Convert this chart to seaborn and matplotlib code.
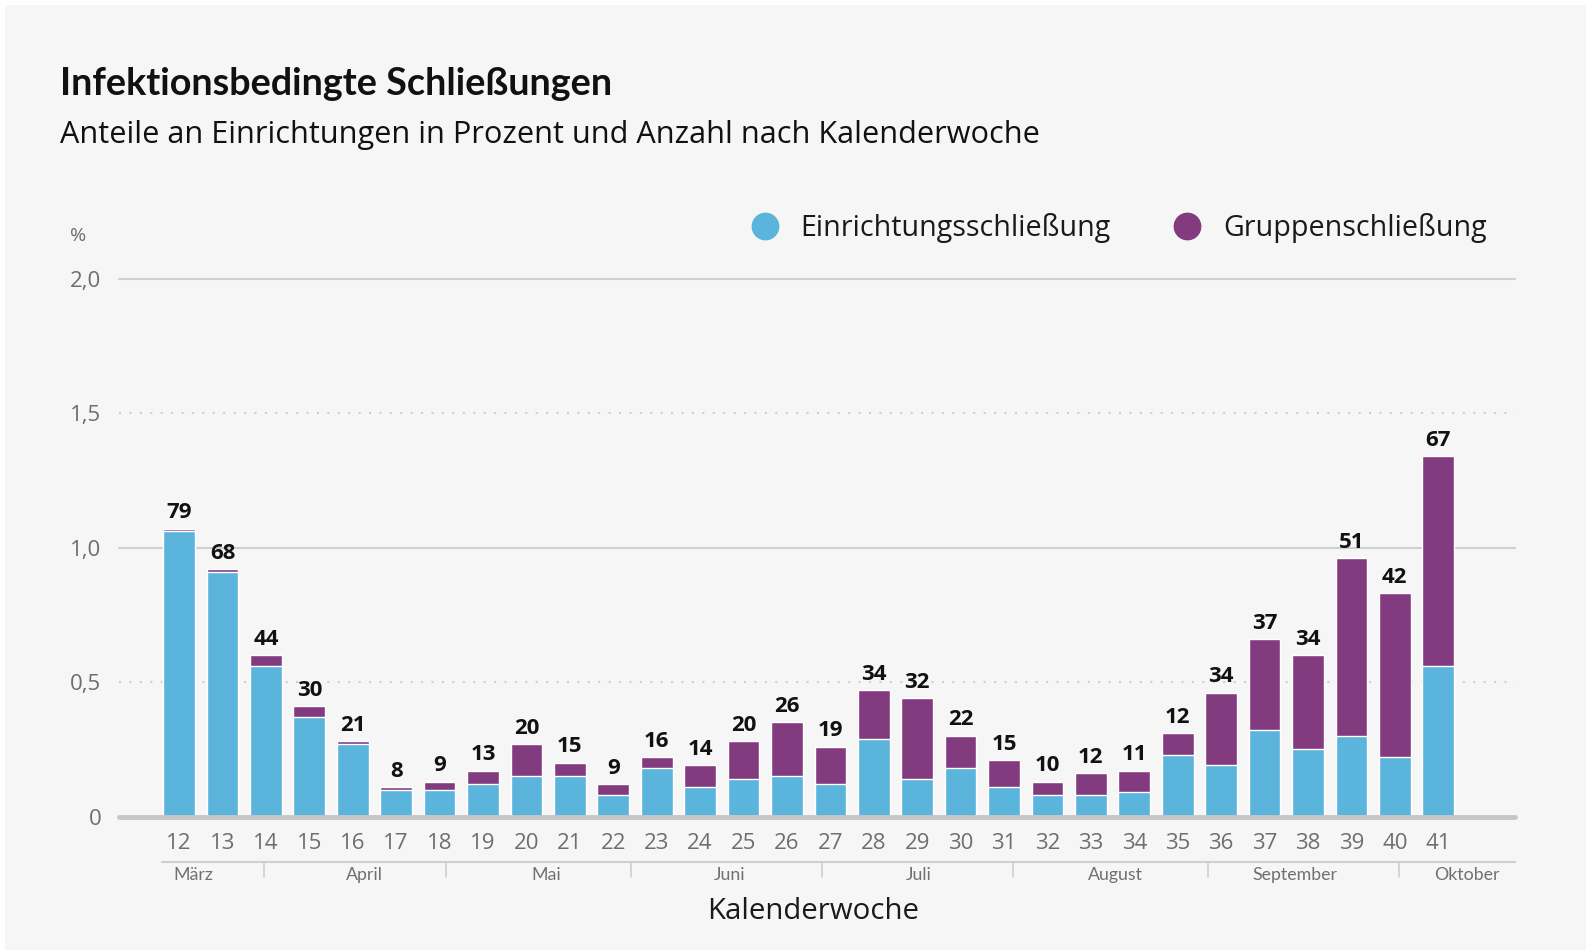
import matplotlib
matplotlib.use("Agg")
import matplotlib.pyplot as plt
import matplotlib.transforms as mtransforms
from matplotlib.lines import Line2D
from matplotlib.patches import Rectangle
import seaborn as sns
import pandas as pd

# ---------------- data ----------------
weeks = [str(w) for w in range(12, 42)]
einrichtung = [1.06, 0.91, 0.56, 0.37, 0.27, 0.10, 0.10, 0.12, 0.15, 0.15,
               0.08, 0.18, 0.11, 0.14, 0.15, 0.12, 0.29, 0.14, 0.18, 0.11,
               0.08, 0.08, 0.09, 0.23, 0.19, 0.32, 0.25, 0.30, 0.22, 0.56]
gruppe = [0.01, 0.01, 0.04, 0.04, 0.01, 0.01, 0.03, 0.05, 0.12, 0.05,
          0.04, 0.04, 0.08, 0.14, 0.20, 0.14, 0.18, 0.30, 0.12, 0.10,
          0.05, 0.08, 0.08, 0.08, 0.27, 0.34, 0.35, 0.66, 0.61, 0.78]
anzahl = [79, 68, 44, 30, 21, 8, 9, 13, 20, 15, 9, 16, 14, 20, 26, 19, 34, 32,
          22, 15, 10, 12, 11, 12, 34, 37, 34, 51, 42, 67]
months = ["März", "April", "Mai", "Juni", "Juli", "August", "September", "Oktober"]
y_ticks = [0, 0.5, 1.0, 1.5, 2.0]
y_ticklabels = ["0", "0,5", "1,0", "1,5", "2,0"]

# layout constants (positions of month labels / separators on the week axis)
month_label_pos = [0.32, 4.26, 8.45, 12.69, 17.03, 21.57, 25.7, 29.66]
month_sep_pos = [1.96, 6.15, 10.41, 14.8, 19.2, 23.7, 28.1]

df = pd.DataFrame({"KW": weeks, "Einrichtung": einrichtung, "Gruppe": gruppe})
df["Gesamt"] = df["Einrichtung"] + df["Gruppe"]

BLUE = "#5bb4dc"
PURPLE = "#833b7f"
BG = "#f6f6f6"
GRID = "#cfcfcf"
TICKC = "#6e6e6e"
OS = ["Open Sans", "DejaVu Sans"]

sns.set_theme(style="white")
plt.rcParams["font.family"] = ["Lato", "DejaVu Sans"]

fig = plt.figure(figsize=(15.86, 9.5), dpi=100, facecolor="white")
fig.patches.append(Rectangle((5 / 1586, 0), 1, 1 - 5 / 950, transform=fig.transFigure,
                             facecolor=BG, edgecolor="none", zorder=-10))

ax = fig.add_axes([0.0753, 0.1405, 0.8800, 0.5663])
ax.set_facecolor(BG)
ax.patch.set_alpha(0)

sns.barplot(data=df, x="KW", y="Gesamt", color=PURPLE, width=0.73,
            saturation=1, ax=ax, zorder=3)
sns.barplot(data=df, x="KW", y="Einrichtung", color=BLUE, width=0.73,
            saturation=1, ax=ax, zorder=4)

ax.set_xlim(-1.374, 30.77)
ax.set_ylim(0, 2.0)

# grid lines
for yv in [1.0, 2.0]:
    ax.axhline(yv, color=GRID, lw=1.5, zorder=1, clip_on=False)
for yv in [0.5, 1.5]:
    ax.axhline(yv, color=GRID, lw=1.5, ls=(0, (1, 4)), zorder=1)
ax.axhline(0, color="#c6c6c6", lw=3.5, zorder=5, clip_on=False)

for s in ax.spines.values():
    s.set_visible(False)

ax.set_yticks(y_ticks)
ax.set_yticklabels(y_ticklabels, color=TICKC, fontsize=16, family=OS)
ax.tick_params(axis="y", length=0, pad=13)
ax.tick_params(axis="x", length=0, pad=12, labelsize=16, labelcolor=TICKC)
for lab in ax.get_xticklabels():
    lab.set_family(OS)
ax.set_xlabel("")
ax.set_ylabel("")

# count labels
for i, (tot, n) in enumerate(zip(df["Gesamt"], anzahl)):
    ax.text(i, tot + 0.02, str(n), ha="center", va="bottom", fontsize=16,
            fontweight="bold", color="#111111", zorder=6, family=OS)

# percent sign
fig.text(78 / 1586, 1 - 236 / 950, "%", ha="center", va="center", fontsize=14,
         color=TICKC, family=OS)

# month axis
trans = mtransforms.blended_transform_factory(ax.transData, ax.transAxes)
ax.plot([-0.4, 30.77], [-0.0851, -0.0851], transform=trans, color=GRID, lw=1.5, clip_on=False)
for xs in month_sep_pos:
    ax.plot([xs, xs], [-0.0851, -0.112], transform=trans, color=GRID, lw=1.2, clip_on=False)
for xl, m in zip(month_label_pos, months):
    ax.text(xl, -0.1087, m, transform=trans, ha="center", va="center",
            fontsize=12.8, color="#707070")

ax.text(14.6, -0.176, "Kalenderwoche", transform=trans, ha="center", va="center",
        fontsize=21.2, color="#1a1a1a", family=OS)

# titles
fig.text(60 / 1586, 1 - 84 / 950, "Infektionsbedingte Schließungen", ha="left", va="center",
         fontsize=27.2, fontweight="bold", color="#111111")
fig.text(60 / 1586, 1 - 135 / 950, "Anteile an Einrichtungen in Prozent und Anzahl nach Kalenderwoche",
         ha="left", va="center", fontsize=22.1, color="#111111", family=OS)

# legend
handles = [Line2D([], [], marker="o", ls="none", markersize=19, markerfacecolor=BLUE,
                  markeredgecolor=BLUE),
           Line2D([], [], marker="o", ls="none", markersize=19, markerfacecolor=PURPLE,
                  markeredgecolor=PURPLE)]
fig.legend(handles, ["Einrichtungsschließung", "Gruppenschließung"], loc="center left",
           bbox_to_anchor=(736 / 1586, 0.7595), ncol=2, frameon=False,
           prop={"family": OS, "size": 20.6}, borderpad=0, handlelength=1.0,
           handletextpad=0.76, columnspacing=2.15, labelcolor="#1a1a1a")

fig.savefig("out.png", dpi=100, facecolor=fig.get_facecolor())
